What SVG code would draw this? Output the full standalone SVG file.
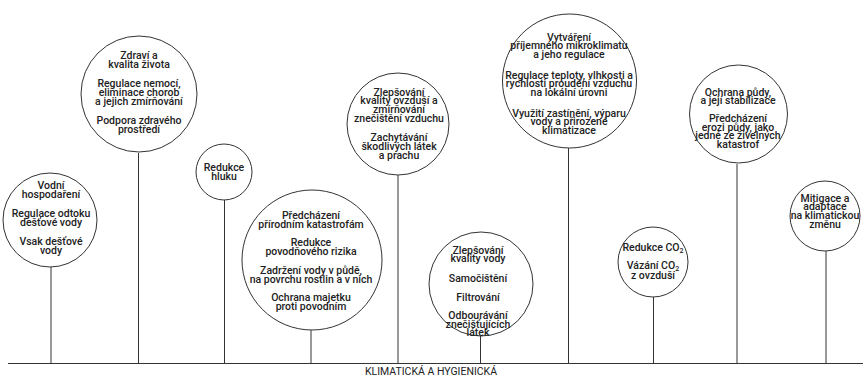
<svg xmlns="http://www.w3.org/2000/svg" width="863" height="377" viewBox="0 0 863 377">
<style>
.c{fill:#fff;stroke:#333;stroke-width:1}
.l{stroke:#333;stroke-width:1;fill:none}
.t{font-family:Roboto,"Liberation Sans",sans-serif;font-size:10.5px;font-weight:500;fill:#222;text-anchor:middle}
.s{font-size:7px}
.b{font-family:Roboto,"Liberation Sans",sans-serif;font-size:10.5px;font-weight:400;fill:#222;text-anchor:middle}
</style>
<rect width="863" height="377" fill="#fff"/>
<g id="connectors">
<line class="l" x1="8" y1="363.5" x2="863" y2="363.5"/>
<line class="l" x1="51" y1="266" x2="51" y2="363"/>
<line class="l" x1="138.5" y1="153" x2="138.5" y2="363"/>
<line class="l" x1="224.5" y1="199" x2="224.5" y2="363"/>
<line class="l" x1="311" y1="329" x2="311" y2="363"/>
<line class="l" x1="398" y1="174" x2="398" y2="363"/>
<line class="l" x1="480.5" y1="336" x2="480.5" y2="363"/>
<line class="l" x1="568.5" y1="148" x2="568.5" y2="363"/>
<line class="l" x1="653.5" y1="297" x2="653.5" y2="363"/>
<line class="l" x1="737" y1="164" x2="737" y2="363"/>
<line class="l" x1="826" y1="251" x2="826" y2="363"/>
</g>
<g id="n1"><circle class="c" cx="50" cy="220" r="47"/>
<text class="t" y="188.5"><tspan x="51">Vodní</tspan><tspan x="51" dy="9.5">hospodaření</tspan><tspan x="51" dy="18.5">Regulace odtoku</tspan><tspan x="51" dy="9.5">dešťové vody</tspan><tspan x="51" dy="18.5">Vsak dešťové</tspan><tspan x="51" dy="9.5">vody</tspan></text></g>
<g id="n2"><circle class="c" cx="139" cy="94" r="58"/>
<text class="t" y="58.5"><tspan x="139">Zdraví a</tspan><tspan x="139" dy="9.5">kvalita života</tspan><tspan x="139" dy="18.5">Regulace nemocí,</tspan><tspan x="139" dy="9.2">eliminace chorob</tspan><tspan x="139" dy="9.2">a jejich zmírňování</tspan><tspan x="139" dy="19">Podpora zdravého</tspan><tspan x="139" dy="9">prostředí</tspan></text></g>
<g id="n3"><circle class="c" cx="224" cy="172" r="28"/>
<text class="t" y="170.5"><tspan x="224">Redukce</tspan><tspan x="224" dy="9.5">hluku</tspan></text></g>
<g id="n4"><circle class="c" cx="312" cy="260" r="70"/>
<text class="t" y="218.5"><tspan x="311">Předcházení</tspan><tspan x="311" dy="9">přírodním katastrofám</tspan><tspan x="311" dy="18.5">Redukce</tspan><tspan x="311" dy="9">povodňového rizika</tspan><tspan x="311" dy="18.5">Zadržení vody v půdě,</tspan><tspan x="311" dy="9">na povrchu rostlin a v nich</tspan><tspan x="311" dy="18.5">Ochrana majetku</tspan><tspan x="311" dy="9">proti povodním</tspan></text></g>
<g id="n5"><circle class="c" cx="398" cy="124" r="51"/>
<text class="t" y="95.5"><tspan x="399">Zlepšování</tspan><tspan x="399" dy="8.8">kvality ovzduší a</tspan><tspan x="399" dy="8.8">zmírňování</tspan><tspan x="399" dy="8.8">znečištění vzduchu</tspan><tspan x="399" dy="19.5">Zachytávání</tspan><tspan x="399" dy="8.8">škodlivých látek</tspan><tspan x="399" dy="8.8">a prachu</tspan></text></g>
<g id="n6"><circle class="c" cx="481" cy="284" r="52"/>
<text class="t" y="253.5"><tspan x="478">Zlepšování</tspan><tspan x="478" dy="8.6">kvality vody</tspan><tspan x="478" dy="19.5">Samočištění</tspan><tspan x="478" dy="19">Filtrování</tspan><tspan x="478" dy="18.2">Odbourávání</tspan><tspan x="478" dy="8.8">znečišťujících</tspan><tspan x="478" dy="8.5">látek</tspan></text></g>
<g id="n7"><circle class="c" cx="569.5" cy="81" r="67"/>
<text class="t" y="40.5"><tspan x="569">Vytváření</tspan><tspan x="569" dy="8.6">příjemného mikroklimatu</tspan><tspan x="569" dy="8.6">a jeho regulace</tspan><tspan x="569" dy="20.8">Regulace teploty, vlhkosti a</tspan><tspan x="569" dy="8.6">rychlosti proudění vzduchu</tspan><tspan x="569" dy="8.6">na lokální úrovni</tspan><tspan x="569" dy="20.8">Využití zastínění, výparu</tspan><tspan x="569" dy="8.6">vody a přirozené</tspan><tspan x="569" dy="8.6">klimatizace</tspan></text></g>
<g id="n8"><circle class="c" cx="653" cy="262" r="35"/>
<text class="t" y="250.5"><tspan x="653">Redukce CO<tspan class="s" dy="2">2</tspan></tspan><tspan x="653" dy="16">Vázání CO<tspan class="s" dy="2">2</tspan></tspan><tspan x="653" dy="8">z ovzduší</tspan></text></g>
<g id="n9"><circle class="c" cx="738.5" cy="114" r="49"/>
<text class="t" y="95.5"><tspan x="738">Ochrana půdy,</tspan><tspan x="738" dy="8.6">a její stabilizace</tspan><tspan x="738" dy="18">Předcházení</tspan><tspan x="738" dy="8.6">erozi půdy, jako</tspan><tspan x="738" dy="8.6">jedné ze živelných</tspan><tspan x="738" dy="8.6">katastrof</tspan></text></g>
<g id="n10"><circle class="c" cx="825" cy="216" r="35"/>
<text class="t" y="201.5"><tspan x="825">Mitigace a</tspan><tspan x="825" dy="8.7">adaptace</tspan><tspan x="825" dy="8.7">na klimatickou</tspan><tspan x="825" dy="8.7">změnu</tspan></text></g>
<g id="label"><text class="b" x="431" y="375">KLIMATICKÁ A HYGIENICKÁ</text></g>
</svg>
